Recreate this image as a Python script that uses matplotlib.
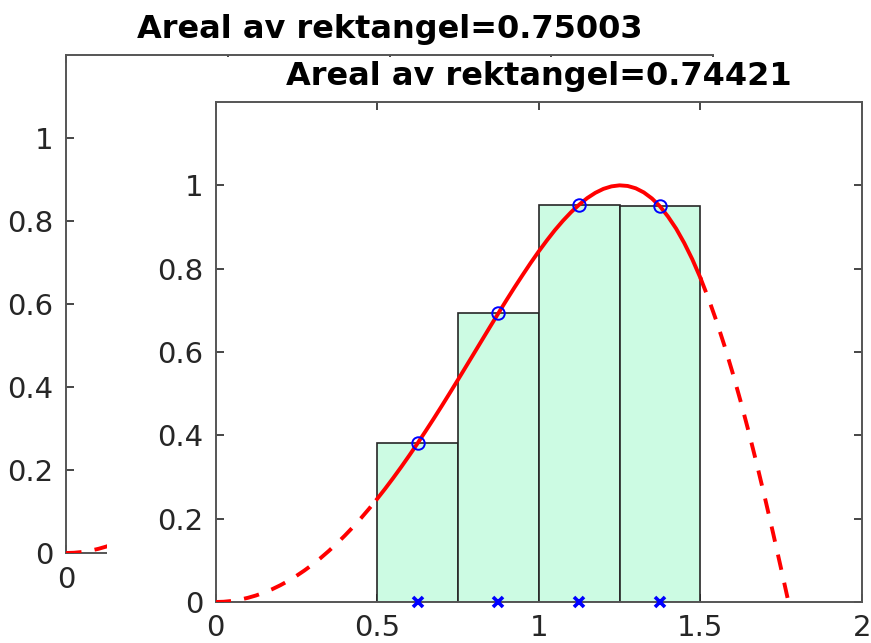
import matplotlib.pyplot as plt
from matplotlib.patches import Rectangle

# midpoint-rule rectangles on [0.5, 1.5], n = 4
left_edges = [0.5, 0.75, 1.0, 1.25]
width = 0.25
mid_x = [0.625, 0.875, 1.125, 1.375]
mid_y = [0.3807, 0.6930, 0.9536, 0.9496]

# sampled curve values, step 0.025
curve_x = [i * 0.025 for i in range(71)] + [1.7725]
curve_y = [0.0, 0.0006, 0.0025, 0.0056, 0.0100, 0.0156, 0.0225, 0.0306,
           0.0400, 0.0506, 0.0625, 0.0756, 0.0899, 0.1054, 0.1222, 0.1402,
           0.1593, 0.1796, 0.2011, 0.2237, 0.2474, 0.2721, 0.2979, 0.3246,
           0.3523, 0.3807, 0.4101, 0.4400, 0.4706, 0.5018, 0.5333, 0.5652,
           0.5972, 0.6293, 0.6613, 0.6930, 0.7243, 0.7550, 0.7847, 0.8138,
           0.8415, 0.8677, 0.8925, 0.9151, 0.9356, 0.9536, 0.9694, 0.9820,
           0.9915, 0.9975, 1.0000, 0.9985, 0.9929, 0.9830, 0.9686, 0.9496,
           0.9249, 0.8961, 0.8617, 0.8226, 0.7781, 0.7284, 0.6737, 0.6139,
           0.5494, 0.4803, 0.4069, 0.3297, 0.2489, 0.1652, 0.0790, 0.0]

area_old = 0.75003
area_new = 0.74421

yticks = [0, 0.2, 0.4, 0.6, 0.8, 1]
xticks = [0, 0.5, 1, 1.5, 2]

AX_COLOR = '#262626'
RED = '#ff0000'
BLUE = '#0000ff'
FACE = '#ccfbe3'
LW = 2.8
DASH = (4, 3.4)

W, H = 871, 643


def style_axes(ax):
    ax.set_xlim(0, 2)
    ax.set_ylim(0, 1.2)
    ax.set_xticks(xticks)
    ax.set_xticklabels(['0', '0.5', '1', '1.5', '2'])
    ax.set_yticks(yticks)
    ax.set_yticklabels(['0', '0.2', '0.4', '0.6', '0.8', '1'])
    ax.tick_params(direction='in', length=6, width=1.2, colors=AX_COLOR,
                   labelsize=21, pad=9, top=True, right=True)
    for s in ax.spines.values():
        s.set_color('#555555')
        s.set_linewidth(1.4)


def draw_curve(ax):
    inside = [i for i, x in enumerate(curve_x) if 0.5 <= x <= 1.5 + 1e-9]
    lo, hi = inside[0], inside[-1]
    ax.plot(curve_x[:lo + 1], curve_y[:lo + 1], color=RED, lw=LW,
            dashes=DASH, zorder=3)
    ax.plot(curve_x[lo:hi + 1], curve_y[lo:hi + 1], color=RED, lw=LW,
            solid_joinstyle='round', zorder=3)
    ax.plot(curve_x[hi:], curve_y[hi:], color=RED, lw=LW,
            dashes=DASH, zorder=3)


fig = plt.figure(figsize=(W / 100, H / 100), dpi=100)

# older frame, mostly hidden behind the newer one
ax0 = fig.add_axes([66 / W, 1 - 553 / H, 647 / W, 498 / H], zorder=0)
style_axes(ax0)
ax0.spines['right'].set_visible(False)
draw_curve(ax0)
ax0.set_title(f'Areal av rektangel={area_old:.5f}', fontsize=23,
              fontweight='bold', pad=12)

cover = Rectangle((107 / W, 0), 1, 1 - 57 / H, transform=fig.transFigure,
                  facecolor='white', edgecolor='none', zorder=1)
fig.patches.append(cover)

ax1 = fig.add_axes([215.5 / W, 1 - 602 / H, 646.5 / W, 500 / H], zorder=2)
style_axes(ax1)
ax1.bar(left_edges, mid_y, width=width, align='edge', color=FACE,
        edgecolor=AX_COLOR, linewidth=1.2, zorder=2)
draw_curve(ax1)
ax1.plot(mid_x, mid_y, 'o', mfc='none', mec=BLUE, ms=9, mew=1.4, zorder=4)
ax1.plot(mid_x, [0] * len(mid_x), 'x', color=BLUE, ms=6.5, mew=2.6, zorder=4,
         clip_on=False)
ax1.set_title(f'Areal av rektangel={area_new:.5f}', fontsize=23,
              fontweight='bold', pad=12)

fig.savefig('out.png', dpi=100)
